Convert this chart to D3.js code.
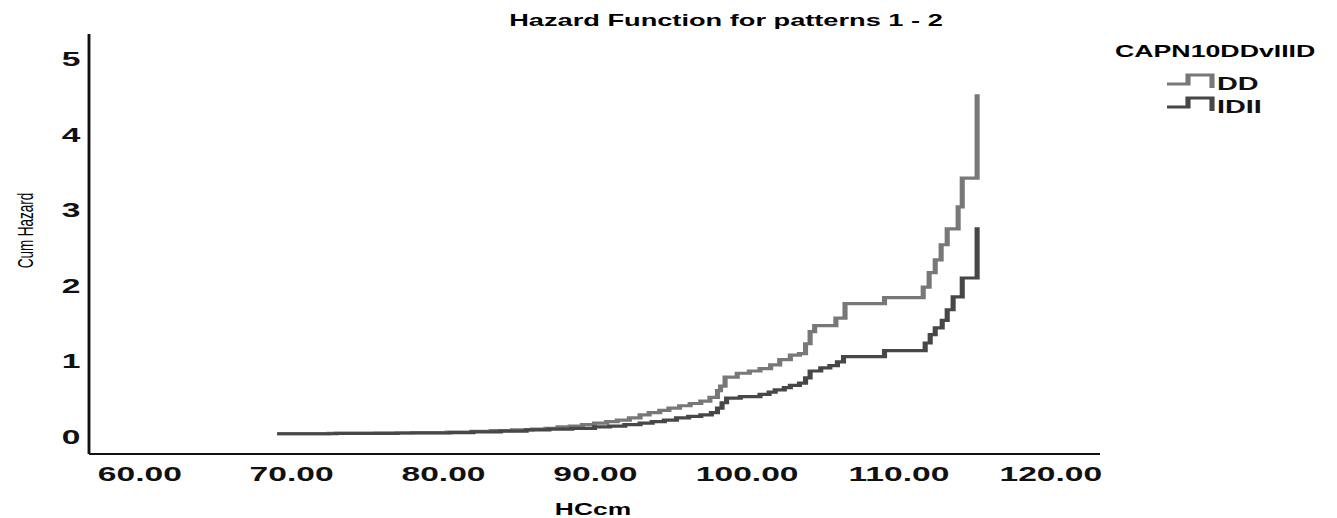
<!DOCTYPE html>
<html>
<head>
<meta charset="utf-8">
<script src="https://cdn.jsdelivr.net/npm/d3@7"></script>
<style>
  html, body { margin: 0; padding: 0; background: #fff; }
  svg { display: block; }
</style>
</head>
<body>
<script>
// Cumulative hazard by HC (cm), step functions for the two genotype groups
const hcDD = [69.1, 72.5, 75.6, 78.0, 80.3, 81.9, 83.2, 84.6, 85.9, 86.8, 87.6, 88.4, 89.2, 90.0, 90.8,
  91.5, 92.3, 93.0, 93.6, 94.3, 94.9, 95.6, 96.3, 97.0, 97.6, 98.1, 98.3, 98.6, 99.4, 100.2, 100.9,
  101.6, 102.2, 102.9, 103.5, 103.9, 104.2, 104.5, 105.9, 106.5, 109.1, 111.65, 112.04, 112.44,
  112.83, 113.23, 113.95, 114.22, 115.2];
const cumDD = [0.03, 0.035, 0.04, 0.045, 0.05, 0.06, 0.07, 0.08, 0.09, 0.10, 0.12, 0.13, 0.15, 0.17, 0.19,
  0.21, 0.24, 0.28, 0.31, 0.34, 0.37, 0.40, 0.43, 0.46, 0.51, 0.60, 0.66, 0.78, 0.83, 0.86, 0.89,
  0.94, 1.01, 1.07, 1.09, 1.22, 1.38, 1.46, 1.56, 1.75, 1.83, 1.97, 2.16, 2.33,
  2.53, 2.74, 3.03, 3.41, 4.52];

const hcIDII = [69.1, 73.0, 77.0, 80.5, 82.0, 83.8, 85.5, 87.0, 88.5, 90.0, 91.0, 92.0, 93.0, 93.8, 94.6,
  95.4, 96.2, 97.0, 97.7, 98.1, 98.4, 98.7, 99.6, 100.9, 101.5, 101.9, 102.5, 102.9, 103.5, 103.9,
  104.2, 104.9, 105.5, 106.0, 106.4, 109.1, 111.78, 112.11, 112.44, 112.9, 113.23, 113.62, 114.22, 115.2];
const cumIDII = [0.03, 0.035, 0.04, 0.045, 0.055, 0.065, 0.08, 0.09, 0.10, 0.12, 0.13, 0.15, 0.17, 0.19, 0.21,
  0.24, 0.26, 0.28, 0.31, 0.37, 0.44, 0.50, 0.52, 0.55, 0.58, 0.61, 0.64, 0.67, 0.70, 0.77,
  0.86, 0.90, 0.93, 0.98, 1.05, 1.13, 1.23, 1.34, 1.43, 1.53, 1.67, 1.84, 2.09, 2.76];

const groupNames = ["DD", "IDII"];
const groupColors = ["#787878", "#474747"];
const xTicks = [60, 70, 80, 90, 100, 110, 120];
const yTicks = [0, 1, 2, 3, 4, 5];

// The drawing is laid out in a narrower coordinate space and stretched horizontally
const S = 1.6;
const W = 1337, H = 518;
const VW = W / S;

const svg = d3.select("body").append("svg")
  .attr("width", W).attr("height", H)
  .attr("viewBox", `0 0 ${VW} ${H}`)
  .attr("preserveAspectRatio", "none");

const x = d3.scaleLinear().domain([60, 120]).range([139 / S, 1050 / S]);
const y = d3.scaleLinear().domain([0, 5]).range([436, 58]);

const axisLeftX = 89 / S, axisRightX = 1100 / S;
const axisTopY = 34, axisBottomY = 454;

const font = "'Liberation Sans', Arial, Helvetica, sans-serif";

// Title
svg.append("text")
  .attr("x", 726 / S).attr("y", 26)
  .attr("text-anchor", "middle")
  .style("font-family", font).style("font-weight", "bold").style("font-size", "17px")
  .text("Hazard Function for patterns 1 - 2");

// Axes
const xAxis = svg.append("g")
  .attr("transform", `translate(0,${axisBottomY})`)
  .call(d3.axisBottom(x).tickValues(xTicks).tickSize(0).tickFormat(d3.format(".2f")));
xAxis.select(".domain").remove();
xAxis.selectAll("text")
  .attr("y", 27).attr("dy", 0)
  .style("font-family", font).style("font-weight", "bold").style("font-size", "21px").attr("fill", "#111");

const yAxis = svg.append("g")
  .attr("transform", `translate(${80.5 / S},0)`)
  .call(d3.axisLeft(y).tickValues(yTicks).tickSize(0).tickFormat(d3.format("d")));
yAxis.select(".domain").remove();
yAxis.selectAll("text")
  .attr("x", 0).attr("dy", "7.5")
  .style("font-family", font).style("font-weight", "bold").style("font-size", "21px").attr("fill", "#111");

svg.append("line")
  .attr("x1", axisLeftX).attr("x2", axisLeftX)
  .attr("y1", axisTopY).attr("y2", axisBottomY)
  .attr("stroke", "#111").attr("stroke-width", 1.8);
svg.append("line")
  .attr("x1", axisLeftX).attr("x2", axisRightX)
  .attr("y1", axisBottomY).attr("y2", axisBottomY)
  .attr("stroke", "#111").attr("stroke-width", 1.8);

// Axis titles
svg.append("text")
  .attr("transform", `translate(${33 / S},230.5) rotate(-90)`)
  .attr("text-anchor", "middle")
  .style("font-family", font).style("font-size", "13.5px")
  .text("Cum Hazard");

svg.append("text")
  .attr("x", 593 / S).attr("y", 515)
  .attr("text-anchor", "middle")
  .style("font-family", font).style("font-weight", "bold").style("font-size", "16.5px")
  .text("HCcm");

// Step curves
const series = [
  { name: groupNames[0], color: groupColors[0], pts: hcDD.map((v, i) => [v, cumDD[i]]) },
  { name: groupNames[1], color: groupColors[1], pts: hcIDII.map((v, i) => [v, cumIDII[i]]) }
];

const line = d3.line()
  .x(d => x(d[0]))
  .y(d => y(d[1]))
  .curve(d3.curveStepAfter);

svg.append("g").selectAll("path")
  .data(series)
  .join("path")
  .attr("d", d => line(d.pts))
  .attr("fill", "none")
  .attr("stroke", d => d.color)
  .attr("stroke-width", 3.2)
  .attr("stroke-linejoin", "miter");

// Legend
svg.append("text")
  .attr("x", 1115 / S).attr("y", 57)
  .style("font-family", font).style("font-weight", "bold").style("font-size", "16.7px")
  .text("CAPN10DDvIIID");

const legend = svg.append("g").selectAll("g")
  .data(series)
  .join("g")
  .attr("transform", (d, i) => `translate(0,${i * 23})`);

legend.append("path")
  .attr("d", `M${1167 / S},84 H${1188 / S} V75 H${1212 / S} V88`)
  .attr("fill", "none")
  .attr("stroke", d => d.color)
  .attr("stroke-width", 3.2);

legend.append("text")
  .attr("x", 1217 / S).attr("y", 90)
  .style("font-family", font).style("font-weight", "bold").style("font-size", "18px")
  .attr("fill", "#111")
  .text(d => d.name);
</script>
</body>
</html>
